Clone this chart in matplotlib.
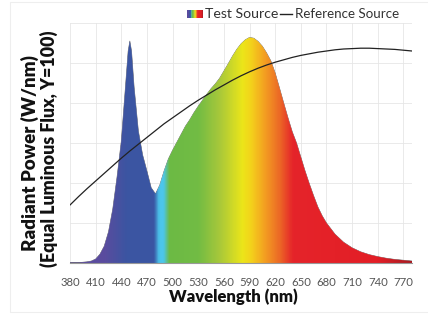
import matplotlib.pyplot as plt
import numpy as np
from matplotlib.colors import LinearSegmentedColormap
from matplotlib.patches import Rectangle

# wavelength grid of the test source spectrum (nm)
test_wl = [380, 390, 400, 405, 410, 415, 420, 425, 430, 435, 440, 445, 448, 450,
           452, 455, 460, 465, 470, 475, 480, 485, 490, 495, 500, 505, 510, 515,
           520, 525, 530, 535, 540, 545, 550, 555, 560, 565, 570, 575, 580, 585,
           590, 595, 600, 605, 610, 615, 620, 625, 630, 635, 640, 645, 650, 655,
           660, 665, 670, 675, 680, 690, 700, 710, 720, 730, 740, 750, 760, 770, 780]
test_val = [0.01, 0.01, 0.03, 0.05, 0.10, 0.22, 0.42, 0.78, 1.35, 2.15, 3.05, 4.45, 5.30, 5.55,
            5.30, 4.40, 3.30, 2.70, 2.30, 1.88, 1.73, 1.95, 2.30, 2.60, 2.82, 3.02, 3.22, 3.42,
            3.58, 3.76, 3.92, 4.07, 4.22, 4.36, 4.48, 4.62, 4.80, 4.98, 5.17, 5.34, 5.48, 5.58,
            5.64, 5.62, 5.54, 5.42, 5.25, 5.05, 4.75, 4.38, 4.00, 3.63, 3.28, 3.00, 2.65, 2.30,
            1.98, 1.68, 1.40, 1.18, 1.00, 0.72, 0.52, 0.38, 0.28, 0.21, 0.16, 0.12, 0.09, 0.07, 0.05]

ref_wl = list(range(380, 781, 10))
ref_val = [1.45, 1.66, 1.86, 2.05, 2.24, 2.43, 2.62, 2.80, 2.97, 3.14, 3.31, 3.48, 3.63, 3.78,
           3.93, 4.07, 4.20, 4.33, 4.45, 4.57, 4.68, 4.78, 4.87, 4.95, 5.02, 5.08, 5.14, 5.19,
           5.23, 5.27, 5.30, 5.33, 5.35, 5.36, 5.37, 5.37, 5.36, 5.35, 5.34, 5.32, 5.30]

xticks = list(range(380, 771, 30))

# spectrum colours along the wavelength axis
stops = [(380, "#5b4a9e"), (420, "#5a4c9e"), (445, "#3c55a2"), (478, "#3a56a3"),
         (484, "#4cc6ec"), (489, "#4cc6ec"), (496, "#6cba45"), (530, "#72bc44"),
         (555, "#a8c83a"), (582, "#ece619"), (592, "#f3d21b"), (607, "#f4a221"),
         (625, "#ec6a26"), (641, "#e5242a"), (740, "#e31e26"), (780, "#a81c22")]
cmap = LinearSegmentedColormap.from_list(
    "spec", [((w - 380) / 400, c) for w, c in stops])

plt.rcParams["font.family"] = ["Lato", "DejaVu Sans"]

fig = plt.figure(figsize=(4.28, 3.14), dpi=100)
ax = fig.add_axes([70 / 428, 51 / 314, 342 / 428, 240 / 314])

grad = np.linspace(0, 1, 800).reshape(1, -1)
poly = ax.fill_between(test_wl, test_val, 0, facecolor="none", edgecolor="#555555", lw=0.4)
im = ax.imshow(grad, extent=[380, 780, 0, 6], aspect="auto", cmap=cmap,
               origin="lower", interpolation="bilinear", zorder=2)
im.set_clip_path(poly.get_paths()[0], transform=ax.transData)

ax.plot(ref_wl, ref_val, color="#222222", lw=0.9, zorder=3)

ax.set_xlim(380, 780)
ax.set_ylim(0, 6)
ax.set_xticks(xticks)
ax.set_yticks(range(0, 7))
ax.set_yticklabels([])
ax.grid(True, color="#e6e6e6", lw=0.6)
ax.set_axisbelow(True)
ax.tick_params(axis="both", length=0)
ax.tick_params(axis="x", labelsize=8.2, labelcolor="#555555", pad=10)
for s in ["top", "right", "left"]:
    ax.spines[s].set_visible(False)
ax.spines["bottom"].set_color("#999999")
ax.spines["bottom"].set_linewidth(0.8)

fig.text(233 / 428, 1 - 297 / 314, "Wavelength (nm)", ha="center", va="center",
         fontsize=12, fontweight="heavy", color="#111111")
fig.text(30 / 428, 1 - 153 / 314, "Radiant Power (W/nm)", ha="center", va="center",
         rotation=90, fontsize=13.5, fontweight="heavy", color="#111111")
fig.text(49 / 428, 1 - 149 / 314, "(Equal Luminous Flux, Y=100)", ha="center", va="center",
         rotation=90, fontsize=12.8, fontweight="heavy", color="#111111")

# legend
lax = fig.add_axes([187 / 428, 1 - 18 / 314, 16 / 428, 8 / 314])
lax.imshow(grad, aspect="auto", cmap=cmap)
lax.axis("off")
fig.text(205 / 428, 1 - 14 / 314, "Test Source", ha="left", va="center",
         fontsize=10.2, color="#333333")
fig.add_artist(plt.Line2D([280 / 428, 292 / 428], [1 - 14 / 314, 1 - 14 / 314],
                          color="#222222", lw=1.0))
fig.text(295 / 428, 1 - 14 / 314, "Reference Source", ha="left", va="center",
         fontsize=9.6, color="#333333")

fig.add_artist(Rectangle((10 / 428, 2 / 314), 1, 310 / 314, transform=fig.transFigure,
                         facecolor="none", edgecolor="#eeeeee", lw=0.8))

fig.savefig("out.png", dpi=100)
